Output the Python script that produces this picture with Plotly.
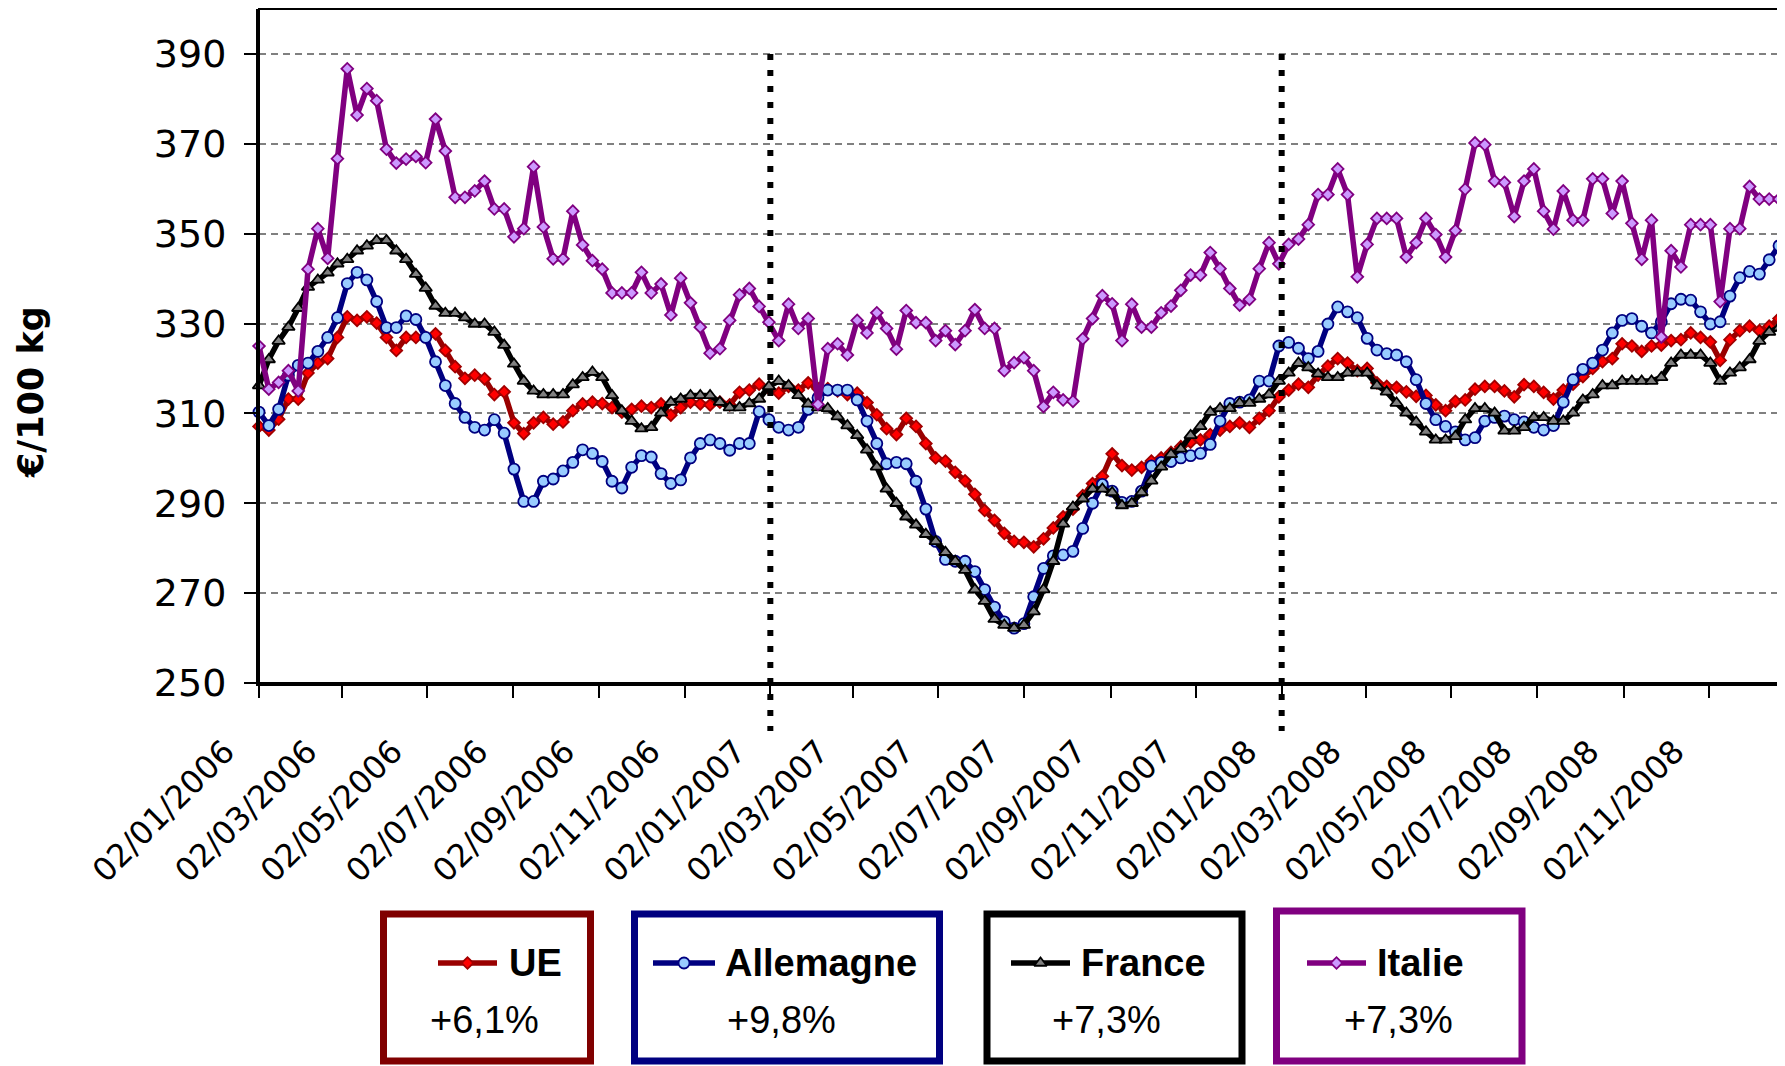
import pandas as pd
import plotly.graph_objects as go

# ---------------- data ----------------
dates = pd.date_range("2006-01-02", periods=156, freq="7D")

ue = [307.1, 306.3, 308.7, 313.2, 313.2, 319.0, 321.2, 322.2, 326.9, 331.5,
      330.7, 331.5, 330.1, 326.9, 324.0, 326.9, 326.9, 326.9, 327.7, 324.0,
      320.4, 317.8, 318.5, 317.7, 314.2, 314.8, 307.9, 305.5, 307.9, 309.1,
      307.6, 308.1, 310.6, 312.1, 312.5, 312.2, 311.3, 310.3, 310.9, 311.6,
      311.3, 312.1, 309.6, 311.3, 312.5, 312.1, 311.9, 312.5, 311.9, 314.7,
      315.2, 316.5, 315.5, 314.5, 316.0, 315.2, 316.8, 315.5, 315.5, 315.0,
      314.2, 314.5, 312.4, 309.7, 306.6, 305.3, 308.9, 307.1, 303.3, 300.1,
      299.4, 296.9, 295.0, 292.0, 288.4, 286.2, 283.3, 281.5, 281.3, 280.3,
      282.1, 284.5, 287.0, 288.7, 291.7, 294.4, 296.0, 301.0, 298.4, 297.4,
      298.0, 299.4, 300.1, 301.3, 302.6, 303.6, 304.1, 305.3, 306.3, 307.1,
      307.9, 306.9, 308.9, 310.6, 313.7, 315.2, 316.5, 315.8, 318.5, 320.5,
      322.2, 321.2, 319.5, 320.0, 316.8, 316.0, 315.8, 314.8, 313.8, 314.0,
      311.9, 310.6, 312.7, 313.0, 315.4, 316.0, 316.0, 315.0, 313.7, 316.4,
      316.0, 314.7, 313.2, 315.2, 316.5, 318.2, 320.0, 321.5, 322.2, 325.5,
      325.0, 323.8, 325.0, 325.2, 326.2, 326.4, 327.9, 326.9, 325.9, 321.8,
      326.4, 328.4, 329.4, 328.4, 329.4, 331.1]

allemagne = [310.3, 307.3, 310.9, 318.5, 320.7, 321.2, 323.8, 326.9, 331.3, 338.9,
             341.4, 339.7, 334.9, 329.1, 329.1, 331.7, 330.9, 326.9, 321.5, 316.2,
             312.2, 309.1, 306.9, 306.3, 308.6, 305.6, 297.6, 290.4, 290.4, 294.9,
             295.4, 297.2, 299.1, 301.9, 301.1, 299.3, 294.9, 293.4, 298.0, 300.6,
             300.3, 296.6, 294.4, 295.2, 300.1, 303.3, 304.1, 303.3, 301.8, 303.3,
             303.3, 310.4, 308.6, 306.9, 306.3, 306.9, 310.9, 313.5, 315.2, 315.2,
             315.2, 313.0, 308.3, 303.3, 298.8, 299.1, 298.8, 294.9, 288.7, 281.5,
             277.5, 277.1, 277.1, 274.8, 270.8, 266.9, 263.6, 262.2, 263.2, 269.2,
             275.5, 278.3, 278.5, 279.3, 284.4, 290.0, 294.2, 292.7, 290.2, 290.4,
             292.7, 298.3, 299.1, 299.3, 300.1, 300.6, 301.1, 303.1, 308.3, 312.2,
             312.5, 313.0, 317.2, 317.2, 325.0, 325.8, 324.5, 322.2, 323.8, 329.9,
             333.7, 332.6, 331.3, 326.7, 324.1, 323.3, 323.0, 321.5, 317.5, 312.2,
             308.6, 307.1, 305.9, 304.1, 304.6, 308.3, 309.1, 309.4, 308.6, 308.1,
             306.9, 306.3, 307.3, 312.5, 317.5, 319.8, 321.2, 324.1, 327.9, 330.7,
             331.1, 329.4, 327.9, 330.4, 334.4, 335.4, 335.2, 332.6, 329.9, 330.4,
             336.1, 340.2, 341.6, 341.0, 344.2, 347.3]

france = [316.2, 322.0, 326.1, 329.2, 333.4, 338.1, 339.7, 341.3, 343.3, 344.3,
          346.2, 347.3, 348.5, 348.5, 346.2, 344.3, 341.0, 337.9, 333.9, 332.3,
          332.3, 331.3, 329.9, 329.9, 328.1, 325.2, 321.0, 317.2, 315.0, 314.2,
          314.2, 314.2, 316.4, 318.0, 319.2, 318.0, 314.0, 310.6, 308.3, 306.6,
          306.9, 310.1, 312.5, 313.2, 314.0, 314.0, 314.0, 312.5, 311.3, 311.3,
          312.2, 313.2, 316.0, 317.2, 316.2, 314.0, 312.1, 311.3, 311.1, 309.3,
          307.3, 305.1, 301.9, 298.1, 293.2, 290.0, 287.0, 285.2, 283.1, 281.5,
          279.1, 277.1, 275.1, 270.8, 268.2, 264.2, 262.9, 262.2, 262.9, 265.9,
          270.8, 277.1, 285.4, 289.2, 291.0, 293.2, 293.2, 292.4, 289.5, 290.0,
          292.4, 295.0, 298.1, 300.9, 302.1, 305.1, 307.1, 310.3, 311.1, 311.1,
          312.3, 312.3, 313.2, 314.2, 317.2, 319.0, 321.2, 320.2, 318.8, 318.0,
          318.0, 319.0, 319.0, 319.0, 316.2, 314.8, 312.3, 310.1, 308.1, 305.9,
          304.1, 304.1, 304.9, 308.6, 311.1, 311.1, 310.1, 306.1, 306.1, 306.9,
          309.1, 309.1, 308.3, 308.3, 310.1, 313.0, 314.2, 316.2, 316.2, 317.2,
          317.2, 317.2, 317.2, 318.0, 321.2, 323.0, 323.0, 323.0, 321.2, 317.2,
          319.0, 320.2, 322.0, 326.1, 328.1, 329.1]

italie = [325.0, 315.4, 316.9, 319.5, 315.0, 342.1, 351.1, 344.5, 366.7, 386.7,
          376.4, 382.3, 379.6, 368.8, 365.7, 366.6, 367.2, 365.8, 375.5, 368.4,
          358.1, 358.1, 359.5, 361.7, 355.5, 355.5, 349.3, 351.1, 364.9, 351.5,
          344.4, 344.4, 355.0, 347.5, 344.0, 342.1, 336.8, 336.8, 336.8, 341.4,
          336.8, 338.8, 331.9, 340.1, 334.6, 329.2, 323.4, 324.4, 330.7, 336.4,
          337.8, 333.8, 330.3, 326.2, 334.3, 328.9, 331.1, 312.0, 324.4, 325.5,
          323.0, 330.7, 327.9, 332.4, 328.9, 324.3, 332.9, 330.2, 330.2, 326.2,
          328.4, 325.3, 328.4, 333.1, 328.9, 328.9, 319.5, 321.3, 322.4, 319.5,
          311.5, 314.7, 313.0, 312.7, 326.6, 331.1, 336.2, 334.4, 326.2, 334.3,
          329.2, 329.2, 332.4, 333.9, 337.4, 340.8, 340.8, 345.8, 342.2, 337.8,
          334.1, 335.4, 342.2, 348.0, 343.3, 347.6, 348.8, 352.0, 358.7, 358.7,
          364.4, 358.7, 340.4, 347.6, 353.4, 353.4, 353.4, 344.8, 348.0, 353.4,
          349.8, 344.8, 350.7, 359.9, 370.2, 369.8, 361.7, 361.4, 353.8, 361.7,
          364.4, 355.0, 351.0, 359.5, 353.0, 353.0, 362.2, 362.2, 354.5, 361.7,
          352.3, 344.3, 353.0, 327.0, 346.2, 342.6, 352.0, 352.0, 352.0, 334.9,
          351.1, 351.1, 360.5, 357.7, 357.7, 357.7]

series_names = ["UE", "Allemagne", "France", "Italie"]
changes = ["+6,1%", "+9,8%", "+7,3%", "+7,3%"]

tick_labels = ["02/01/2006", "02/03/2006", "02/05/2006", "02/07/2006", "02/09/2006", "02/11/2006",
               "02/01/2007", "02/03/2007", "02/05/2007", "02/07/2007", "02/09/2007", "02/11/2007",
               "02/01/2008", "02/03/2008", "02/05/2008", "02/07/2008", "02/09/2008", "02/11/2008"]
y_ticks = [250, 270, 290, 310, 330, 350, 370, 390]
year_marks = ["02/01/2007", "02/01/2008"]

# ---------------- layout constants (page pixels) ----------------
PAGE_W, PAGE_H = 1785, 1066
OFF = 8                      # default body margin of the html page
W, H = PAGE_W - OFF, PAGE_H - OFF
L, R, T, B = 259, 1779, 9, 683
Y_MIN, Y_MAX = 250, 400
LINE_W = 5.5


def px_x(p):
    return (p - OFF) / W


def px_y(p):
    return 1 - (p - OFF) / H


def val_to_py(v):
    return B - (v - Y_MIN) / (Y_MAX - Y_MIN) * (B - T)


styles = [
    dict(line="#990000", symbol="diamond", fill="#FF0000", edge="#A00000", size=9, box="#800000"),
    dict(line="#000080", symbol="circle", fill="#99CCFF", edge="#000080", size=11, box="#000080"),
    dict(line="#000000", symbol="triangle-up", fill="#808080", edge="#000000", size=11, box="#000000"),
    dict(line="#800080", symbol="diamond", fill="#CC99FF", edge="#800080", size=9, box="#800080"),
]
values = [ue, allemagne, france, italie]

# legend box geometry (page pixels)
boxes = [
    dict(x0=383.5, x1=590.5, y0=914, line=(438, 497), name_x=507, pct_x=485),
    dict(x0=634.5, x1=939.5, y0=914, line=(653, 715), name_x=723, pct_x=781),
    dict(x0=987, x1=1242, y0=914, line=(1011, 1070), name_x=1079, pct_x=1106),
    dict(x0=1276.5, x1=1522, y0=911, line=(1307, 1366), name_x=1375, pct_x=1398),
]
BOX_BOTTOM = 1061
NAME_Y = 963
PCT_Y = 1020

fig = go.Figure()

for name, vals, st in zip(series_names, values, styles):
    fig.add_trace(go.Scatter(
        x=dates, y=vals, name=name, mode="lines+markers",
        line=dict(color=st["line"], width=LINE_W),
        marker=dict(symbol=st["symbol"], size=st["size"], color=st["fill"],
                    line=dict(color=st["edge"], width=1.8)),
        cliponaxis=False, showlegend=False,
        xaxis="x", yaxis="y",
    ))

# legend samples on full-figure overlay axes (page pixel coordinates)
for st, bx in zip(styles, boxes):
    xa, xb = bx["line"]
    fig.add_trace(go.Scatter(
        x=[xa, (xa + xb) / 2, xb], y=[NAME_Y, NAME_Y, NAME_Y],
        mode="lines+markers",
        line=dict(color=st["line"], width=LINE_W),
        marker=dict(symbol=st["symbol"], size=st["size"], color=st["fill"],
                    line=dict(color=st["edge"], width=1.8), opacity=[0, 1, 0]),
        showlegend=False, hoverinfo="skip", xaxis="x2", yaxis="y2",
    ))

shapes = []
# top / right frame
shapes.append(dict(type="rect", xref="x domain", yref="y domain", x0=0, x1=1, y0=0, y1=1,
                   line=dict(color="black", width=2), layer="above"))
# year separators
for d in year_marks:
    dt = pd.to_datetime(d, format="%d/%m/%Y")
    shapes.append(dict(type="line", xref="x", yref="paper", x0=dt, x1=dt,
                       y0=px_y(val_to_py(390)), y1=px_y(731),
                       line=dict(color="black", width=6, dash="6px,10px"), layer="above"))
# legend boxes
for st, bx in zip(styles, boxes):
    shapes.append(dict(type="rect", xref="paper", yref="paper",
                       x0=px_x(bx["x0"]), x1=px_x(bx["x1"]),
                       y0=px_y(bx["y0"]), y1=px_y(BOX_BOTTOM),
                       line=dict(color=st["box"], width=7), layer="below"))

annotations = []
annotations.append(dict(text="<b>€/100 kg</b>", xref="paper", yref="paper",
                        x=px_x(31), y=px_y(392), textangle=-90, showarrow=False,
                        font=dict(family="DejaVu Sans", size=35, color="black"),
                        xanchor="center", yanchor="middle"))
for name, pct, bx in zip(series_names, changes, boxes):
    annotations.append(dict(text=f"<b>{name}</b>", xref="paper", yref="paper",
                            x=px_x(bx["name_x"]), y=px_y(NAME_Y), showarrow=False,
                            xanchor="left", yanchor="middle",
                            font=dict(family="Liberation Sans", size=38, color="black")))
    annotations.append(dict(text=pct, xref="paper", yref="paper",
                            x=px_x(bx["pct_x"]), y=px_y(PCT_Y), showarrow=False,
                            xanchor="center", yanchor="middle",
                            font=dict(family="Liberation Sans", size=38, color="black")))

tick_vals = pd.to_datetime(tick_labels, format="%d/%m/%Y")

fig.update_layout(
    template="none",
    width=W, height=H,
    margin=dict(l=0, r=0, t=0, b=0, autoexpand=False),
    paper_bgcolor="white", plot_bgcolor="rgba(0,0,0,0)",
    showlegend=False,
    xaxis=dict(
        domain=[px_x(L), px_x(R)], anchor="y", type="date", automargin=False,
        range=[dates[0], dates[-1]],
        tickvals=tick_vals, ticktext=tick_labels, tickangle=-45,
        ticks="outside", ticklen=12, tickwidth=2, tickcolor="black",
        ticklabelstandoff=22, ticklabelshift=-34,
        tickfont=dict(family="DejaVu Sans", size=32, color="black"),
        showgrid=False, zeroline=False,
        showline=True, linecolor="black", linewidth=3,
    ),
    yaxis=dict(
        domain=[px_y(B), px_y(T)], anchor="x", automargin=False,
        range=[Y_MIN, Y_MAX], tickvals=y_ticks,
        ticks="outside", ticklen=12, tickwidth=2, tickcolor="black",
        ticklabelstandoff=10,
        tickfont=dict(family="DejaVu Sans", size=38, color="black"),
        showgrid=True, gridcolor="#808080", gridwidth=2, griddash="7px,5px",
        zeroline=False, showline=True, linecolor="black", linewidth=3,
    ),
    xaxis2=dict(domain=[0, 1], anchor="y2", range=[OFF, OFF + W], visible=False,
                fixedrange=True, automargin=False),
    yaxis2=dict(domain=[0, 1], anchor="x2", range=[OFF + H, OFF], visible=False,
                fixedrange=True, automargin=False),
    shapes=shapes,
    annotations=annotations,
)

fig.write_html("out.html")
